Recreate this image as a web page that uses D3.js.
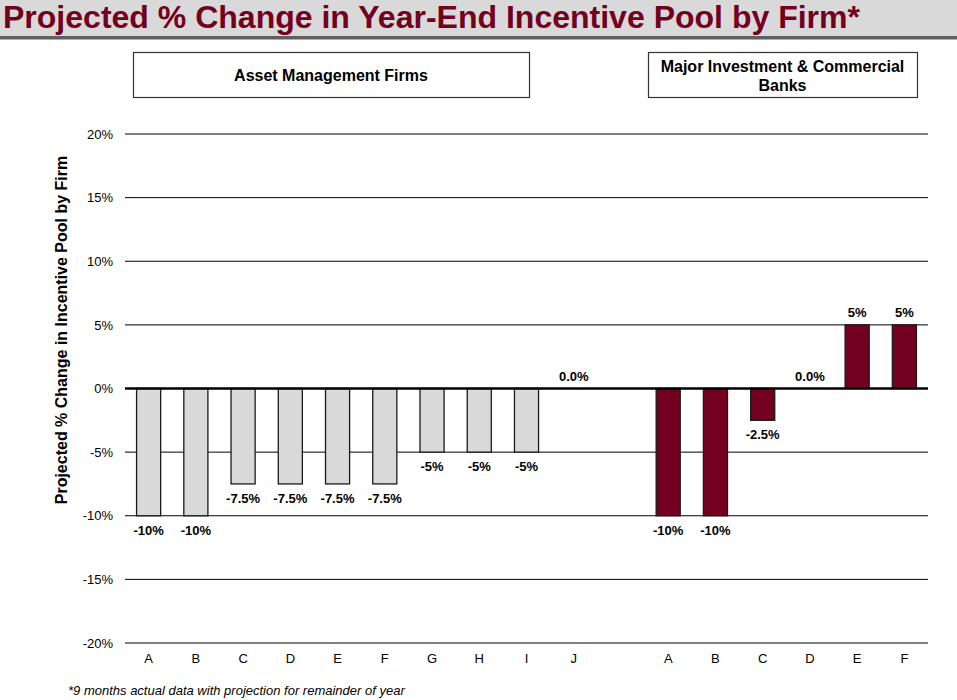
<!DOCTYPE html>
<html><head><meta charset="utf-8">
<script src="https://cdn.jsdelivr.net/npm/d3@7"></script>
<style>body{margin:0;background:#fff;} svg{display:block;font-family:"Liberation Sans",Arial,sans-serif;}</style>
</head><body>
<svg id="c" width="957" height="700"></svg>
<script>
const assetFirms = ["A","B","C","D","E","F","G","H","I","J"];
const assetValues = [-10,-10,-7.5,-7.5,-7.5,-7.5,-5,-5,-5,0];
const assetLabels = ["-10%","-10%","-7.5%","-7.5%","-7.5%","-7.5%","-5%","-5%","-5%","0.0%"];
const bankFirms = ["A","B","C","D","E","F"];
const bankValues = [-10,-10,-2.5,0,5,5];
const bankLabels = ["-10%","-10%","-2.5%","0.0%","5%","5%"];
const yTicks = [20,15,10,5,0,-5,-10,-15,-20];
const groupTitles = ["Asset Management Firms","Major Investment & Commercial|Banks"];

const svg = d3.select("#c");
const maroon = "#730020";

// title band
svg.append("rect").attr("x",0).attr("y",0).attr("width",957).attr("height",36).attr("fill","#d9d9d9");
svg.append("rect").attr("x",0).attr("y",36).attr("width",957).attr("height",3.5).attr("fill","#5f5f5f");
svg.append("text").attr("x",3).attr("y",28).attr("fill",maroon)
  .attr("font-size",31).attr("font-weight","bold")
  .attr("textLength",857).attr("lengthAdjust","spacingAndGlyphs")
  .text("Projected % Change in Year-End Incentive Pool by Firm*");

const rows = [];
assetFirms.forEach((f,i)=>rows.push({key:"am"+f,label:f,value:assetValues[i],text:assetLabels[i],group:0}));
rows.push({key:"gap",label:"",value:null,group:-1});
bankFirms.forEach((f,i)=>rows.push({key:"bk"+f,label:f,value:bankValues[i],text:bankLabels[i],group:1}));

const x = d3.scaleBand().domain(rows.map(r=>r.key)).range([125,928]).paddingInner(0.49).paddingOuter(0.245);
const y = d3.scaleLinear().domain([-20,20]).range([643,134]);

// gridlines
svg.append("g").selectAll("line").data(yTicks.filter(t=>t!==0)).join("line")
  .attr("x1",125).attr("x2",928).attr("y1",d=>y(d)).attr("y2",d=>y(d))
  .attr("stroke","#000").attr("stroke-width",1);

// y axis labels
const yAxis = d3.axisLeft(y).tickValues(yTicks).tickSize(0).tickPadding(0).tickFormat(d=>d+"%");
const ya = svg.append("g").attr("transform","translate(113,0)").call(yAxis);
ya.select(".domain").remove();
ya.selectAll("text").attr("font-size",13).attr("fill","#000").attr("font-family","Liberation Sans, Arial, sans-serif");

// bars
svg.append("g").selectAll("rect").data(rows.filter(r=>r.value!==null && r.value!==0)).join("rect")
  .attr("x",d=>x(d.key)).attr("width",x.bandwidth())
  .attr("y",d=>y(Math.max(0,d.value))).attr("height",d=>Math.abs(y(d.value)-y(0)))
  .attr("fill",d=>d.group===0?"#d9d9d9":maroon).attr("stroke","#1a1a1a").attr("stroke-width",1.3);

// zero line
svg.append("line").attr("x1",125).attr("x2",928).attr("y1",y(0)).attr("y2",y(0)).attr("stroke","#000").attr("stroke-width",2.5);

// value labels
svg.append("g").selectAll("text").data(rows.filter(r=>r.value!==null)).join("text")
  .attr("x",d=>x(d.key)+x.bandwidth()/2)
  .attr("y",d=>d.value<0 ? y(d.value)+19 : y(d.value)-8)
  .attr("text-anchor","middle").attr("font-size",13).attr("font-weight","bold")
  .text(d=>d.text);

// x axis labels
const xAxis = d3.axisBottom(x).tickSize(0).tickPadding(0).tickFormat(k=>rows.find(r=>r.key===k).label);
const xa = svg.append("g").attr("transform","translate(0,654)").call(xAxis);
xa.select(".domain").remove();
xa.selectAll("text").attr("font-size",13).attr("fill","#000").attr("font-family","Liberation Sans, Arial, sans-serif");

// y title
svg.append("text").attr("transform","translate(67,330) rotate(-90)").attr("text-anchor","middle")
  .attr("font-size",16).attr("font-weight","bold").text("Projected % Change in Incentive Pool by Firm");

// group boxes
const boxes = [{x:133,w:396,t:groupTitles[0]},{x:648,w:269,t:groupTitles[1]}];
boxes.forEach(b=>{
  svg.append("rect").attr("x",b.x+0.5).attr("y",52.5).attr("width",b.w).attr("height",45)
    .attr("fill","#fff").attr("stroke","#333").attr("stroke-width",1.2);
  const lines = b.t.split("|");
  const t = svg.append("text").attr("text-anchor","middle").attr("font-size",16).attr("font-weight","bold");
  lines.forEach((ln,i)=>{
    t.append("tspan").attr("x",b.x+b.w/2).attr("y", lines.length===1 ? 81 : 72+i*19).text(ln);
  });
});

// footnote
svg.append("text").attr("x",68).attr("y",695).attr("font-size",13).attr("font-style","italic")
  .text("*9 months actual data with projection for remainder of year");
</script>
</body></html>
